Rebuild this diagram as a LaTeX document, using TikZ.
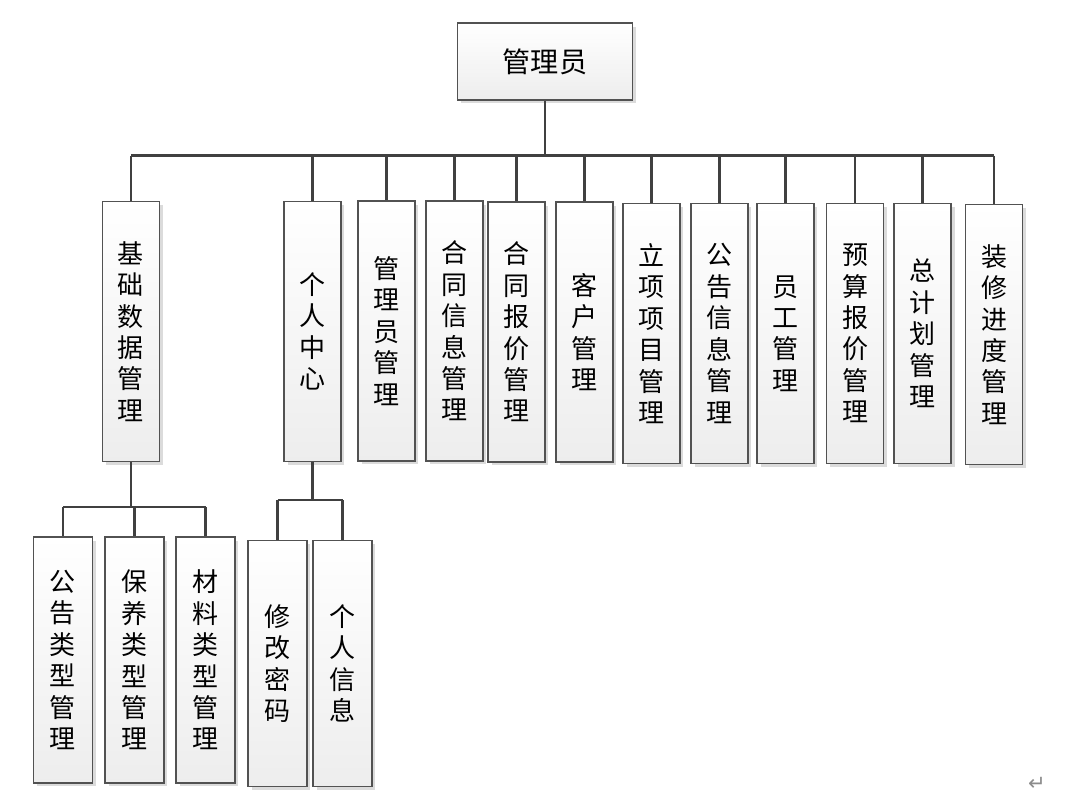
\documentclass[tikz,border=0pt]{standalone}
\usepackage{fontspec}
\setmainfont{Noto Sans CJK SC}
\newfontfamily\symfont{DejaVu Sans}
\usetikzlibrary{shadows}

\begin{document}
\begin{tikzpicture}[x=0.02cm, y=-0.02cm,
        box/.style={rectangle, draw=black!68, line width=0.8pt, top color=white, bottom color=black!7, align=center, inner sep=0pt, drop shadow={shadow xshift=0.07cm, shadow yshift=-0.07cm, fill=black!14, opacity=1}},
        rootbox/.style={box, minimum width=3.5cm, minimum height=1.54cm, font=\fontsize{16pt}{19pt}\selectfont},
        modbox/.style={box, minimum width=1.14cm, minimum height=5.2cm, font=\fontsize{14.8pt}{17.9pt}\selectfont},
        leafbox/.style={box, minimum width=1.18cm, minimum height=4.92cm, font=\fontsize{14.8pt}{17.9pt}\selectfont},
        link/.style={draw=black!75, line width=1.4pt}
    ]
        \useasboundingbox (0,0) rectangle (1066,801);

        % ----------------------------------------------------
        % ROOT
        % ----------------------------------------------------
        \node[rootbox] (admin) at (545, 61.5) {管理员};

        % ----------------------------------------------------
        % FUNCTION MODULES (first level)
        % ----------------------------------------------------
        \node[modbox] (base) at (131, 331.5) {基\\础\\数\\据\\管\\理};
        \node[modbox] (center) at (312.5, 331.5) {个\\人\\中\\心};
        \node[modbox] (mgr) at (386.5, 331) {管\\理\\员\\管\\理};
        \node[modbox] (contract) at (454.5, 331) {合\\同\\信\\息\\管\\理};
        \node[modbox] (quote) at (516.5, 332) {合\\同\\报\\价\\管\\理};
        \node[modbox] (client) at (584.5, 332) {客\\户\\管\\理};
        \node[modbox] (project) at (651.5, 333.5) {立\\项\\项\\目\\管\\理};
        \node[modbox] (notice) at (719.5, 333.5) {公\\告\\信\\息\\管\\理};
        \node[modbox] (staff) at (785.5, 333.5) {员\\工\\管\\理};
        \node[modbox] (budget) at (855, 333.5) {预\\算\\报\\价\\管\\理};
        \node[modbox] (plan) at (922.5, 333.5) {总\\计\\划\\管\\理};
        \node[modbox] (progress) at (994, 334.5) {装\\修\\进\\度\\管\\理};

        % ----------------------------------------------------
        % SUB MODULES (second level)
        % ----------------------------------------------------
        \node[leafbox] (noticetype) at (63, 660) {公\\告\\类\\型\\管\\理};
        \node[leafbox] (mainttype) at (134.5, 660) {保\\养\\类\\型\\管\\理};
        \node[leafbox] (mattype) at (205.5, 660) {材\\料\\类\\型\\管\\理};

        \node[leafbox] (passwd) at (277.5, 663.5) {修\\改\\密\\码};
        \node[leafbox] (profile) at (342.5, 663.5) {个\\人\\信\\息};

        % ----------------------------------------------------
        % CONNECTIONS
        % ----------------------------------------------------
        % Root to modules
        \draw[link] (admin.south) -- ++(0,55) coordinate (bus);
        \draw[link] (base.north |- bus) -- (progress.north |- bus);
        \foreach \m in {base, center, mgr, contract, quote, client, project, notice, staff, budget, plan, progress}
            \draw[link] (\m.north |- bus) -- (\m.north);

        % Base data to its sub modules
        \draw[link] (base.south) -- ++(0,45) coordinate (busA);
        \draw[link] (noticetype.north |- busA) -- (mattype.north |- busA);
        \foreach \m in {noticetype, mainttype, mattype}
            \draw[link] (\m.north |- busA) -- (\m.north);

        % Personal center to its sub modules
        \draw[link] (center.south) -- ++(0,38) coordinate (busB);
        \draw[link] (passwd.north |- busB) -- (profile.north |- busB);
        \foreach \m in {passwd, profile}
            \draw[link] (\m.north |- busB) -- (\m.north);

        % Paragraph mark
        \node[font=\symfont\fontsize{12pt}{12pt}\selectfont, text=black!45] (ret) at (1037, 784) {↵};

    \end{tikzpicture}
\end{document}
